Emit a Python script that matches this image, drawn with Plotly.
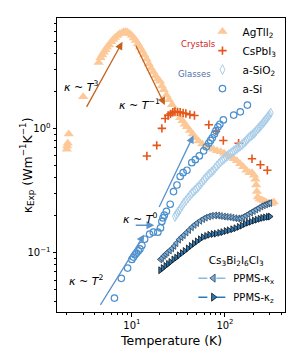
import numpy as np
import plotly.graph_objects as go

# ---------------- data ----------------
agtli2_T = [2.0, 2.02, 2.05, 2.1, 3.0, 4.4, 4.6, 4.8, 5.0, 5.2, 5.4, 5.7, 6.0, 6.3, 6.6, 7.0,
            7.4, 7.8, 8.2, 8.6, 9.0, 9.5, 10, 10.5, 11, 11.6, 12.2, 12.9, 13.6, 14.4, 15.2,
            16, 17, 18, 19, 20, 21, 22, 23.5, 25, 27, 29, 31, 33, 35, 37, 39, 42, 45, 48,
            52, 57, 62, 68, 75, 82, 90, 98, 106, 115, 124, 134, 145, 157, 170, 183, 195,
            205, 212, 216, 220, 225, 235, 250, 262, 275, 290, 305, 320, 335]
agtli2_k = [0.68, 0.72, 0.76, 0.90, 1.8, 3.4, 3.7, 3.9, 4.1, 4.3, 4.5, 4.7, 5.0, 5.2, 5.4, 5.6,
            5.8, 5.9, 6.0, 6.0, 5.95, 5.8, 5.6, 5.35, 5.1, 4.8, 4.5, 4.2, 3.9, 3.6, 3.3,
            3.05, 2.85, 2.65, 2.5, 2.4, 2.2, 2.05, 1.85, 1.7, 1.55, 1.4, 1.3, 1.22, 1.15, 1.08,
            1.03, 0.96, 0.9, 0.84, 0.79, 0.75, 0.72, 0.70, 0.68, 0.66, 0.65, 0.63, 0.61, 0.59,
            0.57, 0.55, 0.52, 0.49, 0.46, 0.44, 0.44, 0.42, 0.39, 0.35, 0.31, 0.28, 0.27,
            0.265, 0.26, 0.255, 0.25, 0.25, 0.25, 0.255]

cspbi3_T = [14.5, 18.5, 21, 22.8, 24.5, 26, 27.5, 29, 31, 33, 35.5, 38, 42, 47, 67, 80, 96,
            140, 195, 240, 285]
cspbi3_k = [0.60, 0.73, 1.0, 1.2, 1.27, 1.31, 1.35, 1.37, 1.36, 1.35, 1.33, 1.32, 1.29, 1.27,
            1.07, 0.95, 0.80, 0.76, 0.57, 0.51, 0.46]

asio2_T = [29, 30, 31, 32, 33, 34.5, 36, 38, 40, 42, 44, 46, 48, 50, 52, 54.5, 57, 59.5, 62,
           65, 68, 71.5, 75, 78.5, 82, 86, 90, 94, 98, 102, 106, 110, 115, 120, 125, 130,
           135, 140, 146, 152, 158, 164, 170, 176, 183, 190, 197, 204, 210, 217, 225, 232,
           240, 247, 255, 262, 270, 277, 285, 292, 300, 310]
asio2_k = [0.195, 0.202, 0.21, 0.217, 0.225, 0.237, 0.25, 0.262, 0.275, 0.288, 0.30, 0.31,
           0.32, 0.33, 0.34, 0.355, 0.37, 0.385, 0.40, 0.415, 0.43, 0.445, 0.46, 0.48, 0.50,
           0.52, 0.54, 0.555, 0.57, 0.585, 0.60, 0.615, 0.63, 0.645, 0.66, 0.675, 0.69, 0.705,
           0.72, 0.74, 0.76, 0.78, 0.80, 0.825, 0.85, 0.87, 0.89, 0.91, 0.93, 0.96, 0.99, 1.015,
           1.04, 1.07, 1.10, 1.13, 1.16, 1.19, 1.22, 1.255, 1.29, 1.33]

asi_T = [6.5, 7.7, 9.0, 10.0, 10.4, 10.8, 11.2, 11.7, 12.2, 12.8, 13.7, 15.5, 17.0, 19.0,
         20.3, 21.0, 21.6, 22.3, 23.5, 25.8, 28, 30.5, 33, 35.5, 39, 44, 48, 53, 59, 63, 67,
         70, 73, 77, 80, 84, 88, 96, 124, 146, 174]
asi_k = [0.043, 0.062, 0.075, 0.088, 0.092, 0.096, 0.099, 0.103, 0.107, 0.114, 0.128, 0.141,
         0.146, 0.146, 0.158, 0.178, 0.19, 0.20, 0.215, 0.245, 0.31, 0.35, 0.41, 0.44, 0.46,
         0.53, 0.56, 0.60, 0.66, 0.71, 0.76, 0.80, 0.84, 0.90, 0.96, 1.03, 1.08, 1.17, 1.28,
         1.36, 1.54]

kx_T = [20.2, 21, 22, 23, 24, 25.5, 27, 28.5, 30, 32, 34, 36, 38.5, 41, 44, 47, 50, 54, 58,
        62, 67, 72, 78, 84, 90, 97, 104, 112, 120, 129, 138, 147, 157, 167, 178, 190, 203,
        216, 230, 245, 260, 275, 290, 305]
kx_k = [0.088, 0.090, 0.094, 0.097, 0.100, 0.104, 0.108, 0.113, 0.119, 0.127, 0.133, 0.138,
        0.145, 0.152, 0.160, 0.167, 0.173, 0.180, 0.186, 0.191, 0.195, 0.198, 0.199, 0.199,
        0.197, 0.195, 0.194, 0.193, 0.191, 0.189, 0.188, 0.189, 0.193, 0.198, 0.204, 0.210,
        0.216, 0.222, 0.228, 0.235, 0.240, 0.244, 0.248, 0.250]

kz_T = [20.2, 21.5, 23, 24.5, 26, 28, 30, 32, 34.5, 37, 40, 43, 46.5, 50, 54, 58, 63, 68, 74,
        80, 87, 94, 102, 110, 120, 130, 141, 152, 164, 177, 190, 205, 220, 236, 252, 270,
        290, 305]
kz_k = [0.072, 0.075, 0.078, 0.081, 0.084, 0.088, 0.091, 0.095, 0.099, 0.103, 0.108, 0.113,
        0.118, 0.123, 0.128, 0.133, 0.136, 0.139, 0.141, 0.142, 0.144, 0.146, 0.149, 0.151,
        0.154, 0.157, 0.161, 0.165, 0.170, 0.174, 0.177, 0.181, 0.184, 0.187, 0.190, 0.192,
        0.194, 0.195]

x_tick_vals = [10, 100]
x_tick_text = ["10<sup>1</sup>", "10<sup>2</sup>"]
y_tick_vals = [0.1, 1]
y_tick_text = ["10<sup>\u22121</sup>", "10<sup>0</sup>"]

# slope guides: (tail T, tail k, head T, head k, colour)
guide_arrows = [
    (3.2, 1.45, 7.93, 4.99, "#c4631f"),
    (10.85, 4.76, 22.6, 1.54, "#c4631f"),
    (4.49, 0.0369, 13.6, 0.14, "#5b93cb"),
    (10.6, 0.166, 17.4, 0.166, "#5b93cb"),
    (19.3, 0.226, 45.9, 0.88, "#5b93cb"),
]
# slope labels: (T, k, text)
guide_labels = [
    (2.85, 2.19, "<i>\u03ba</i> ~ <i>T</i><sup>3</sup>"),
    (12.0, 1.57, "<i>\u03ba</i> ~ <i>T</i><sup>\u22121</sup>"),
    (12.3, 0.189, "<i>\u03ba</i> ~ <i>T</i><sup>0</sup>"),
    (3.19, 0.0598, "<i>\u03ba</i> ~ <i>T</i><sup>2</sup>"),
]

FONT = "DejaVu Sans"
c_agt = "#fdc897"
c_csp = "#e4571b"
c_sio2 = "#a9cde9"
c_asi = "#4a8fcd"
c_kx = "#7aaedb"
c_kz = "#2a7ab9"

fig = go.Figure()

fig.add_trace(go.Scatter(
    x=agtli2_T, y=agtli2_k, mode="markers", name="AgTlI<sub>2</sub>", legend="legend",
    marker=dict(symbol="triangle-up", size=9, color=c_agt, line=dict(width=0))))
fig.add_trace(go.Scatter(
    x=cspbi3_T, y=cspbi3_k, mode="markers", name="CsPbI<sub>3</sub>", legend="legend",
    marker=dict(symbol="cross-thin", size=6, color=c_csp, line=dict(width=1.6, color=c_csp))))
fig.add_trace(go.Scatter(
    x=asio2_T, y=asio2_k, mode="markers", name="a-SiO<sub>2</sub>", legend="legend",
    marker=dict(symbol="diamond-tall-open", size=7, color=c_sio2, line=dict(width=1, color=c_sio2))))
fig.add_trace(go.Scatter(
    x=asi_T, y=asi_k, mode="markers", name="a-Si", legend="legend",
    marker=dict(symbol="circle-open", size=6.5, color=c_asi, line=dict(width=1.2, color=c_asi))))

fig.add_trace(go.Scatter(
    x=kx_T, y=kx_k, mode="markers", showlegend=False,
    marker=dict(symbol="triangle-left", size=6, color=c_kx, line=dict(width=0.8, color="#2b4560"))))
fig.add_trace(go.Scatter(
    x=kz_T, y=kz_k, mode="markers", showlegend=False,
    marker=dict(symbol="triangle-right", size=6, color=c_kz, line=dict(width=0.8, color="#111111"))))
# legend keys for the Cs3Bi2I6Cl3 series
fig.add_trace(go.Scatter(
    x=[None], y=[None], mode="lines+markers", name="PPMS-\u03ba<sub>x</sub>", legend="legend2",
    line=dict(color="#8bb9e0", dash="dash", width=1.5),
    marker=dict(symbol="triangle-left", size=7, color=c_kx, line=dict(width=0.8, color="#2b4560"))))
fig.add_trace(go.Scatter(
    x=[None], y=[None], mode="lines+markers", name="PPMS-\u03ba<sub>z</sub>", legend="legend2",
    line=dict(color=c_kz, dash="dash", width=1.5),
    marker=dict(symbol="triangle-right", size=7, color=c_kz, line=dict(width=0.8, color="#111111"))))

annotations = []
for (t0, k0, t1, k1, col) in guide_arrows:
    annotations.append(dict(
        x=np.log10(t1), y=np.log10(k1), ax=np.log10(t0), ay=np.log10(k0),
        xref="x", yref="y", axref="x", ayref="y", text="", showarrow=True,
        arrowhead=2, arrowsize=1.2, arrowwidth=1.3, arrowcolor=col, standoff=0))
for (t, k, txt) in guide_labels:
    annotations.append(dict(
        x=np.log10(t), y=np.log10(k), xref="x", yref="y", text=txt, showarrow=False,
        font=dict(family=FONT, size=11, color="black")))
annotations.append(dict(x=0.619, y=0.9356, xref="paper", yref="paper", text="Crystals",
                        showarrow=False, font=dict(family=FONT, size=8.5, color="#d02424")))
annotations.append(dict(x=0.602, y=0.835, xref="paper", yref="paper", text="Glasses",
                        showarrow=False, font=dict(family=FONT, size=8.5, color="#4f6fab")))
# axis titles
annotations.append(dict(x=0.5, y=-0.0964, xref="paper", yref="paper", text="Temperature (K)",
                        showarrow=False, yanchor="middle",
                        font=dict(family=FONT, size=12.5, color="black")))
annotations.append(dict(x=-0.13, y=0.5, xref="paper", yref="paper", textangle=-90,
                        text="\u03ba<sub>Exp</sub> (Wm<sup>\u22121</sup>K<sup>\u22121</sup>)",
                        showarrow=False, xanchor="center",
                        font=dict(family=FONT, size=12.5, color="black")))

fig.update_layout(
    width=296, height=354,
    margin=dict(l=57, r=11, t=18, b=42, autoexpand=False),
    paper_bgcolor="white", plot_bgcolor="white",
    font=dict(family=FONT, size=10, color="black"),
    annotations=annotations,
    legend=dict(x=0.638, y=1.003, xanchor="left", yanchor="top", bgcolor="rgba(0,0,0,0)",
                font=dict(family=FONT, size=10.5), itemwidth=30),
    legend2=dict(x=0.598, y=0.0, xanchor="left", yanchor="bottom", bgcolor="rgba(0,0,0,0)",
                 font=dict(family=FONT, size=10), itemwidth=30,
                 title=dict(text="Cs<sub>3</sub>Bi<sub>2</sub>I<sub>6</sub>Cl<sub>3</sub>",
                            side="top center", font=dict(family=FONT, size=10.5))),
)

minor_x = [2, 3, 4, 5, 6, 7, 8, 9, 20, 30, 40, 50, 60, 70, 80, 90, 200, 300, 400]
minor_y = [0.04, 0.05, 0.06, 0.07, 0.08, 0.09, 0.2, 0.3, 0.4, 0.5, 0.6, 0.7, 0.8, 0.9,
           2, 3, 4, 5, 6, 7]

fig.update_xaxes(
    type="log", range=[np.log10(1.57), np.log10(441)], automargin=False,
    tickvals=x_tick_vals, ticktext=x_tick_text, ticks="outside", ticklen=3.5, tickwidth=0.8,
    tickcolor="black", showgrid=False, zeroline=False,
    showline=True, linecolor="black", linewidth=1, mirror=True,
    minor=dict(tickvals=minor_x, ticks="outside", ticklen=2, tickwidth=0.6, tickcolor="black",
               showgrid=False),
    tickfont=dict(family=FONT, size=10))
fig.update_yaxes(
    type="log", range=[np.log10(0.0332), np.log10(7.75)], automargin=False,
    tickvals=y_tick_vals, ticktext=y_tick_text, ticks="outside", ticklen=3.5, tickwidth=0.8,
    tickcolor="black", showgrid=False, zeroline=False,
    showline=True, linecolor="black", linewidth=1, mirror=True,
    minor=dict(tickvals=minor_y, ticks="outside", ticklen=2, tickwidth=0.6, tickcolor="black",
               showgrid=False),
    tickfont=dict(family=FONT, size=10))

fig.write_html("out.html", config={"displayModeBar": False},
               post_script="document.body.style.margin='0';document.body.style.overflow='hidden';")
